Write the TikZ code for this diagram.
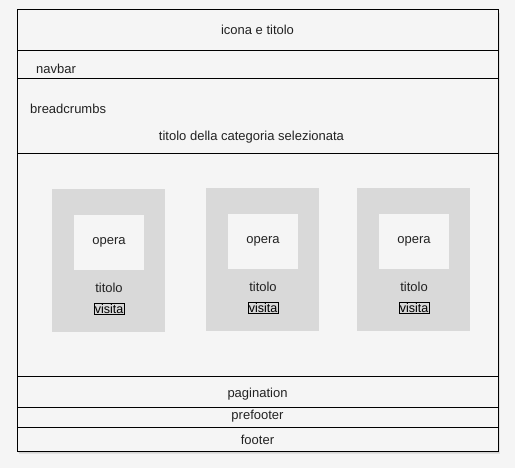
\documentclass[tikz,border=0pt]{standalone}
\usepackage{fontspec}
\setmainfont{Liberation Sans}
\usetikzlibrary{positioning}
\definecolor{pagebg}{HTML}{F5F5F5}
\definecolor{cardgray}{HTML}{D9D9D9}
\definecolor{inktext}{HTML}{222222}
\tikzset{
  label text/.style={font=\fontsize{13}{15}\selectfont, text=inktext, inner sep=0pt, yshift=-1.5pt},
  card/.style={fill=cardgray, draw=none},
  opera box/.style={fill=pagebg, draw=none},
  visita box/.style={draw=black, line width=0.8pt, inner sep=0.8pt, font=\fontsize{12.5}{14}\selectfont}
}
\begin{document}
\begin{tikzpicture}[x=1pt, y=-1pt]
\useasboundingbox[fill=pagebg] (0,0) rectangle (515,468);

% shadow and frame
\fill[black, opacity=0.08] (19,13) rectangle (500,454);
\fill[black, opacity=0.06] (18,12) rectangle (499,453);
\draw[line width=1pt, fill=pagebg] (17,10) rectangle (498,451);

% section dividers
\foreach \y in {51, 79, 154, 377, 407, 427}
  \draw[line width=1pt] (17,\y) -- (498,\y);

\node[label text] (header) at (257.5,28.5) {icona e titolo};
\node[label text, anchor=west] (navbar) at (36,67.5) {navbar};
\node[label text, anchor=west] (crumbs) at (30,107.5) {breadcrumbs};
\node[label text] (cattitle) at (251.5,135.5) {titolo della categoria selezionata};

% cards
\foreach \name/\x/\y in {one/52/189, two/206/188, three/357/188} {
  \fill[card] (\x,\y) rectangle ++(113,143);
  \fill[opera box] (\x+22,\y+26) rectangle ++(70,55);
  \node[label text] (opera-\name) at (\x+57,\y+51.5) {opera};
  \node[label text] (titolo-\name) at (\x+57,\y+97.5) {titolo};
  \node[visita box] (visita-\name) at (\x+57,\y+120) {visita};
}

\node[label text] (pagination) at (257.5,392.5) {pagination};
\node[label text] (prefooter) at (257.5,415) {prefooter};
\node[label text] (footer) at (257.5,438.5) {footer};
\end{tikzpicture}
\end{document}
